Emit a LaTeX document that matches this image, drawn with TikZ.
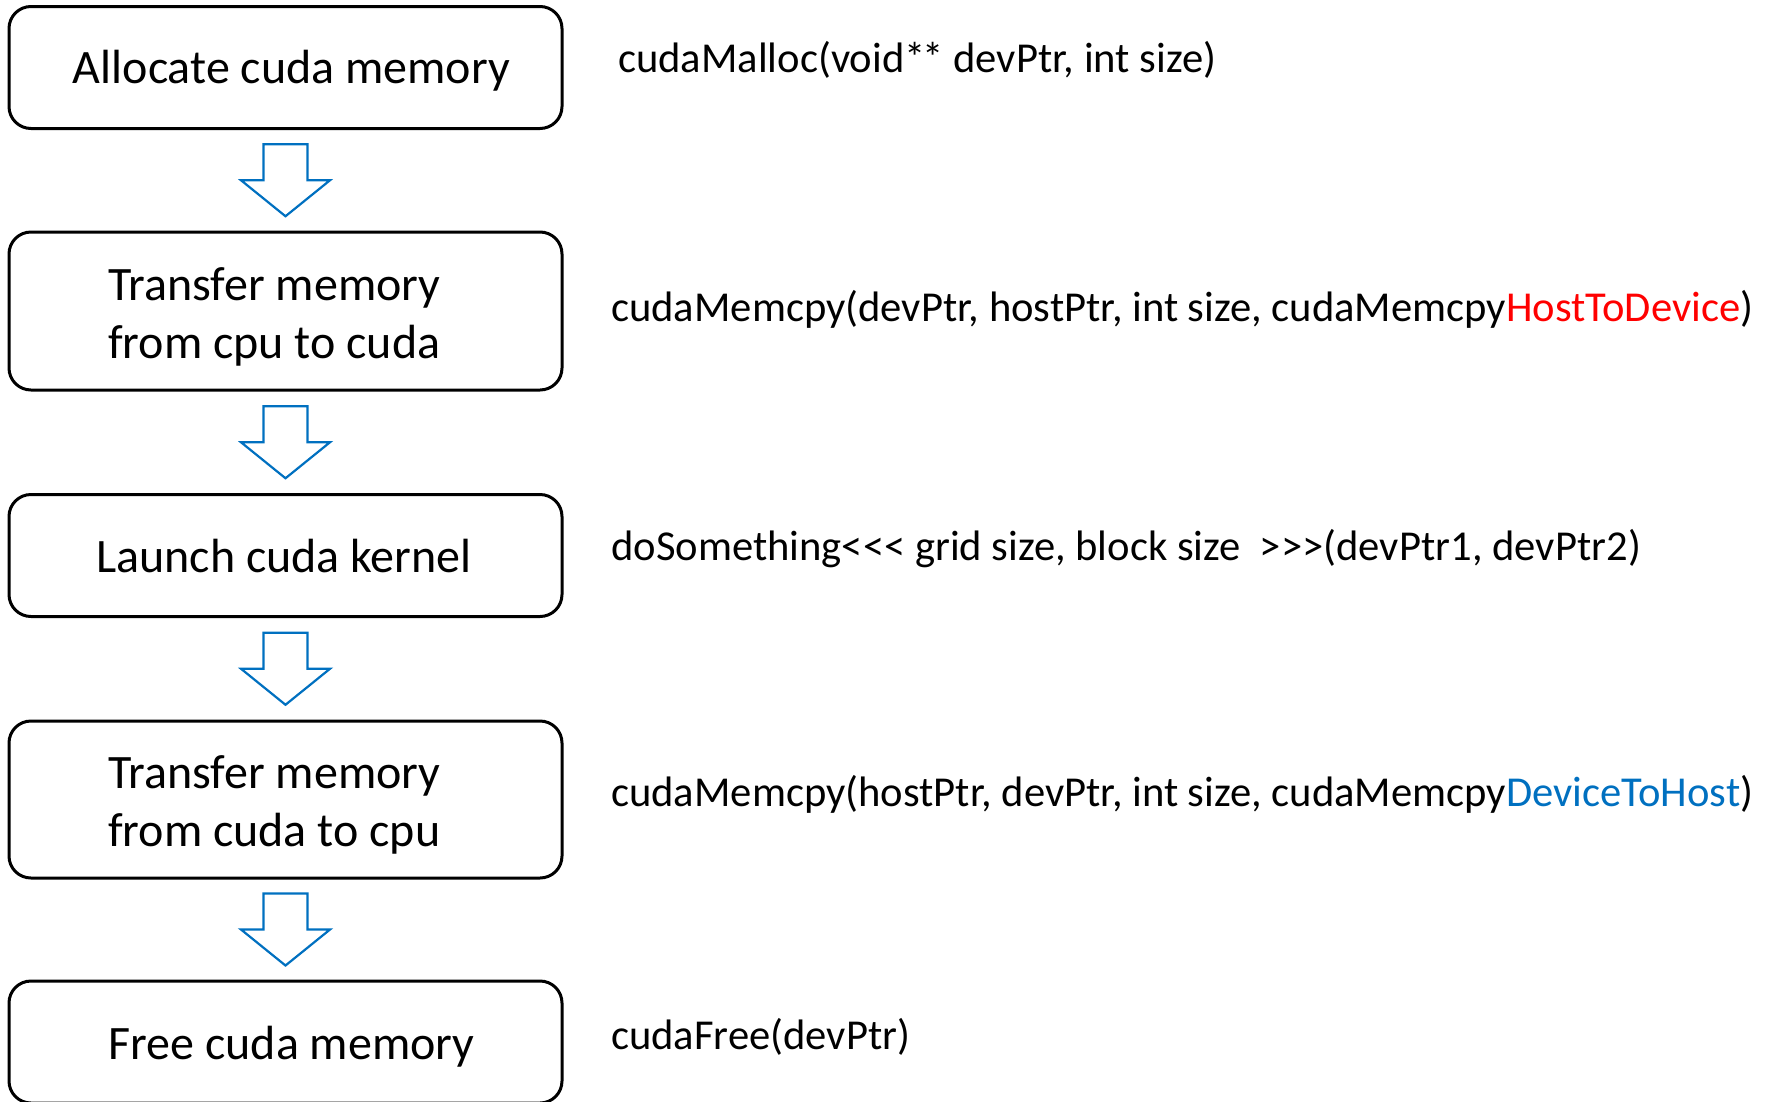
\documentclass[tikz,border=0pt]{standalone}
\usepackage{fontspec}
\setmainfont{Carlito}
\usetikzlibrary{calc}
\definecolor{flowblue}{HTML}{0070C0}
\definecolor{flowred}{HTML}{FF0000}
\begin{document}
\begin{tikzpicture}[x=1pt,y=-1pt,
  stepbox/.style={draw=black,line width=3pt,rounded corners=22pt,
    minimum width=553pt,inner sep=0pt},
  steptext/.style={inner sep=0pt,align=left,font=\fontsize{48}{58}\selectfont},
  apicall/.style={anchor=base west,inner sep=0pt,font=\fontsize{42.6}{50}\selectfont},
  arrowline/.style={draw=flowblue,line width=2.2pt,line join=miter},
  downarrow/.pic={
    \draw[arrowline] (-22,-36) -- (22,-36) -- (22,0) -- (44.5,0)
      -- (0,36) -- (-44.5,0) -- (-22,0) -- cycle;
  }]
\useasboundingbox (0,0) rectangle (1769,1101);

% flow steps
\node[stepbox,minimum height=122pt] (b1) at (285.5,67.5) {};
\node[stepbox,minimum height=158pt] (b2) at (285.5,311) {};
\node[stepbox,minimum height=122pt] (b3) at (285.5,555.5) {};
\node[stepbox,minimum height=157pt] (b4) at (285.5,799.5) {};
\node[stepbox,minimum height=122pt] (b5) at (285.5,1042) {};

% step captions
\node[steptext] (t1) at (291.5,70.5) {Allocate cuda memory};
\node[steptext,anchor=west] (t2) at (108,317) {Transfer memory\\from cpu to cuda};
\node[steptext] (t3) at (284,556.5) {Launch cuda kernel};
\node[steptext,anchor=west] (t4) at (108,804.5) {Transfer memory\\from cuda to cpu};
\node[steptext] (t5) at (291.6,1047) {Free cuda memory};

% block arrows between consecutive steps
\foreach \a/\b in {b1/b2,b2/b3,b3/b4,b4/b5}
  \pic at ($(\a.south)!0.5!(\b.north)$) {downarrow};

% API calls for each step
\node[apicall] (c1) at (618,72) {cudaMalloc(void*\kern-3pt* devPtr, int size)};
\node[apicall] (c2) at (611,321) {cudaMemcpy(devPtr, hostPtr, int size, cudaMemcpy\textcolor{flowred}{HostToDevice})};
\node[apicall] (c3) at (611,560) {doSomething<\kern0pt<\kern0pt< grid size, block size\ \ >\kern0pt>\kern0pt>(devPtr1, devPtr2)};
\node[apicall] (c4) at (611,806) {cudaMemcpy(hostPtr, devPtr, int size, cudaMemcpy\textcolor{flowblue}{DeviceToHost})};
\node[apicall] (c5) at (611,1049) {cudaFree(devPtr)};
\end{tikzpicture}
\end{document}
